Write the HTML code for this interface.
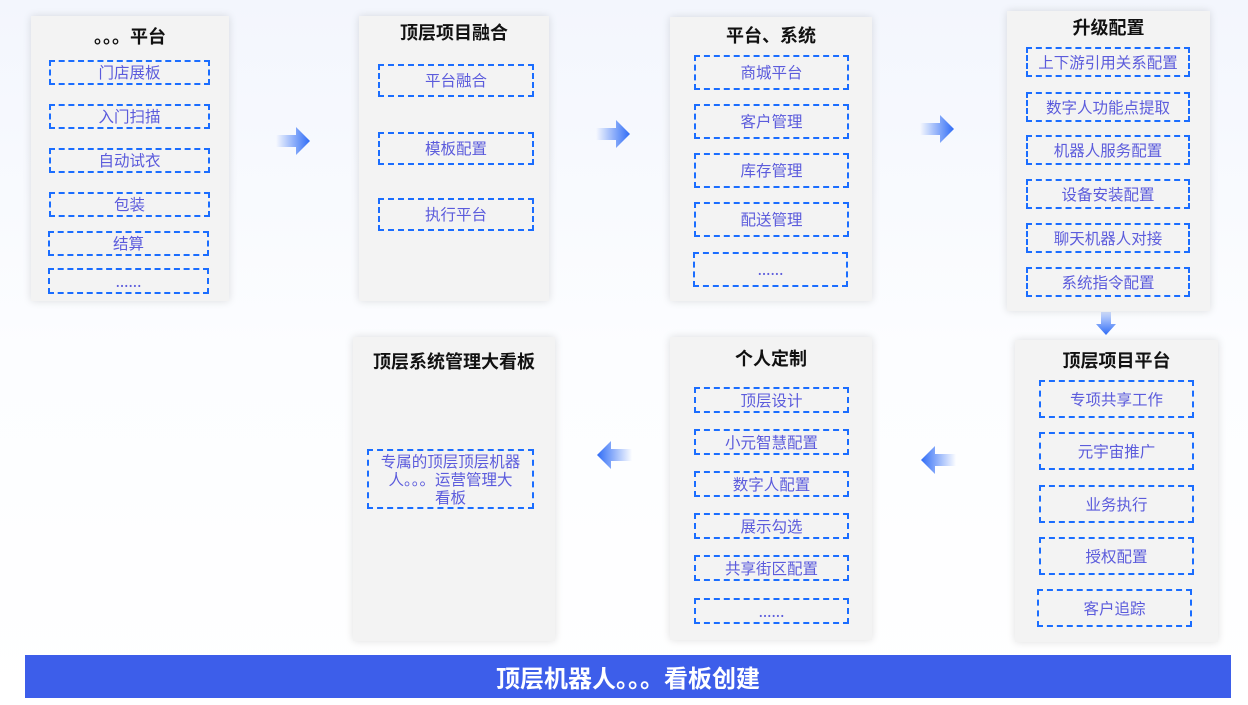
<!DOCTYPE html>
<html><head><meta charset="utf-8"><style>
*{margin:0;padding:0;box-sizing:border-box}
body{width:1248px;height:705px;position:relative;overflow:hidden;background:linear-gradient(#f3f6fd,#fcfdff 50%,#fff);font-family:"Noto Sans CJK SC","Liberation Sans",sans-serif}
.p{position:absolute;background:#f3f3f3;box-shadow:0 0 8px rgba(0,0,0,0.13)}
.t{position:absolute;left:0;right:0;text-align:center;font-weight:bold;font-size:18px;color:#111;line-height:22px}
.b{position:absolute;border:2px dashed #1a6dff;color:#5b5bdc;font-size:15.5px;display:flex;align-items:center;justify-content:center;text-align:center;line-height:19px}
.a{position:absolute}
.bar{position:absolute;left:25px;top:655px;width:1206px;height:43px;background:#3d5eea;color:#fff;font-weight:bold;font-size:24px;text-align:center;line-height:43px}
</style></head><body>
<svg width="0" height="0" style="position:absolute"><defs>
<linearGradient id="gr" x1="0" x2="1"><stop offset="0" stop-color="#2f6cf6" stop-opacity="0"/><stop offset="1" stop-color="#2f6cf6"/></linearGradient>
<linearGradient id="gl" x1="1" x2="0"><stop offset="0" stop-color="#2f6cf6" stop-opacity="0"/><stop offset="1" stop-color="#2f6cf6"/></linearGradient>
<linearGradient id="gd" x1="0" x2="0" y1="0" y2="1"><stop offset="0" stop-color="#2f6cf6" stop-opacity="0.2"/><stop offset="1" stop-color="#2f6cf6"/></linearGradient>
</defs></svg>

<div class="p" style="left:31px;top:16px;width:198px;height:285px">
<div class="t" style="top:9px">。。。平台</div>
<div class="b" style="left:18px;top:44px;width:161px;height:25px">门店展板</div>
<div class="b" style="left:18px;top:88px;width:161px;height:25px">入门扫描</div>
<div class="b" style="left:18px;top:132px;width:161px;height:25px">自动试衣</div>
<div class="b" style="left:18px;top:176px;width:161px;height:25px">包装</div>
<div class="b" style="left:17px;top:215px;width:161px;height:25px">结算</div>
<div class="b" style="left:17px;top:252px;width:161px;height:26px">......</div>
</div>

<div class="p" style="left:359px;top:16px;width:190px;height:285px">
<div class="t" style="top:5px">顶层项目融合</div>
<div class="b" style="left:19px;top:48px;width:156px;height:33px">平台融合</div>
<div class="b" style="left:19px;top:116px;width:156px;height:33px">模板配置</div>
<div class="b" style="left:19px;top:182px;width:156px;height:33px">执行平台</div>
</div>

<div class="p" style="left:670px;top:17px;width:202px;height:284px">
<div class="t" style="top:7px">平台、系统</div>
<div class="b" style="left:24px;top:38px;width:155px;height:35px">商城平台</div>
<div class="b" style="left:24px;top:87px;width:155px;height:35px">客户管理</div>
<div class="b" style="left:24px;top:136px;width:155px;height:35px">库存管理</div>
<div class="b" style="left:24px;top:185px;width:155px;height:35px">配送管理</div>
<div class="b" style="left:23px;top:235px;width:155px;height:35px">......</div>
</div>

<div class="p" style="left:1007px;top:11px;width:203px;height:300px">
<div class="t" style="top:5px">升级配置</div>
<div class="b" style="left:19px;top:36px;width:164px;height:30px">上下游引用关系配置</div>
<div class="b" style="left:19px;top:81px;width:164px;height:30px">数字人功能点提取</div>
<div class="b" style="left:19px;top:124px;width:164px;height:30px">机器人服务配置</div>
<div class="b" style="left:19px;top:168px;width:164px;height:30px">设备安装配置</div>
<div class="b" style="left:19px;top:212px;width:164px;height:30px">聊天机器人对接</div>
<div class="b" style="left:19px;top:256px;width:164px;height:30px">系统指令配置</div>
</div>

<div class="p" style="left:1015px;top:340px;width:203px;height:302px">
<div class="t" style="top:9px">顶层项目平台</div>
<div class="b" style="left:24px;top:40px;width:155px;height:38px">专项共享工作</div>
<div class="b" style="left:24px;top:92px;width:155px;height:38px">元宇宙推广</div>
<div class="b" style="left:24px;top:145px;width:155px;height:38px">业务执行</div>
<div class="b" style="left:24px;top:197px;width:155px;height:38px">授权配置</div>
<div class="b" style="left:22px;top:249px;width:155px;height:38px">客户追踪</div>
</div>

<div class="p" style="left:670px;top:337px;width:202px;height:303px">
<div class="t" style="top:10px">个人定制</div>
<div class="b" style="left:24px;top:50px;width:155px;height:26px">顶层设计</div>
<div class="b" style="left:24px;top:92px;width:155px;height:26px">小元智慧配置</div>
<div class="b" style="left:24px;top:134px;width:155px;height:26px">数字人配置</div>
<div class="b" style="left:24px;top:176px;width:155px;height:26px">展示勾选</div>
<div class="b" style="left:24px;top:218px;width:155px;height:26px">共享街区配置</div>
<div class="b" style="left:24px;top:261px;width:155px;height:26px">......</div>
</div>

<div class="p" style="left:353px;top:337px;width:202px;height:304px">
<div class="t" style="top:13px">顶层系统管理大看板</div>
<div class="b" style="left:14px;top:112px;width:167px;height:60px;padding:0 4px;line-height:18px">专属的顶层顶层机器<br>人。。。运营管理大<br>看板</div>
</div>

<svg class="a" style="left:276px;top:127px" width="36" height="28"><path d="M0 8H20V0L34 14L20 28V20H0Z" fill="url(#gr)"/></svg>
<svg class="a" style="left:596px;top:120px" width="36" height="28"><path d="M0 8H20V0L34 14L20 28V20H0Z" fill="url(#gr)"/></svg>
<svg class="a" style="left:920px;top:115px" width="36" height="28"><path d="M0 8H20V0L34 14L20 28V20H0Z" fill="url(#gr)"/></svg>
<svg class="a" style="left:1095px;top:312px" width="22" height="24"><path d="M6 0H16V12H21L11 23L1 12H6Z" fill="url(#gd)"/></svg>
<svg class="a" style="left:596px;top:441px" width="38" height="28"><path d="M36 8H15V0L1 14L15 28V20H36Z" fill="url(#gl)"/></svg>
<svg class="a" style="left:920px;top:446px" width="38" height="28"><path d="M36 8H15V0L1 14L15 28V20H36Z" fill="url(#gl)"/></svg>

<div class="bar">顶层机器人。。。看板创建</div>
</body></html>
